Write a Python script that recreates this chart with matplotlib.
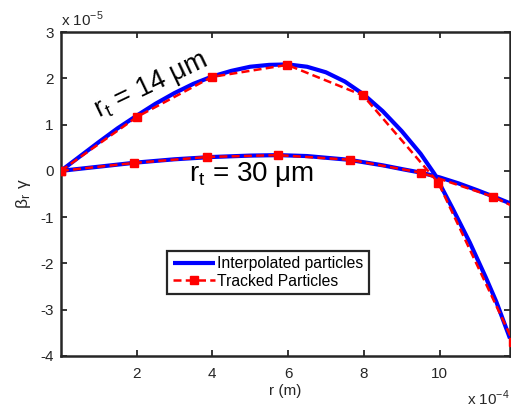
import numpy as np
import matplotlib.pyplot as plt

plt.rcParams['font.family'] = ['Liberation Sans', 'DejaVu Sans']
plt.rcParams['axes.unicode_minus'] = False

# r en unidades de 1e-4 m, beta_r*gamma en unidades de 1e-5
r_interp_14 = [0, 0.5, 1, 1.5, 2, 2.5, 3, 3.5, 4, 4.5, 5, 5.5, 6, 6.5, 7, 7.5,
               8, 8.5, 9, 9.5, 9.87, 10.35, 10.8, 11.22, 11.5, 11.86]
bg_interp_14 = [0, 0.31, 0.62, 0.92, 1.19, 1.45, 1.68, 1.88, 2.04, 2.16, 2.25, 2.29,
                2.3, 2.25, 2.13, 1.93, 1.65, 1.29, 0.86, 0.37, -0.07, -0.82, -1.55,
                -2.3, -2.83, -3.62]

r_track_14 = [0, 2.02, 3.99, 5.98, 7.98, 9.97, 11.95]
bg_track_14 = [0, 1.17, 2.03, 2.29, 1.63, -0.26, -3.70]

r_interp_30 = [0, 1, 2, 3, 4, 5, 5.75, 6.5, 7.6, 8.5, 9.06, 9.52, 10, 10.5, 11,
               11.44, 11.86]
bg_interp_30 = [0, 0.09, 0.18, 0.25, 0.3, 0.33, 0.34, 0.32, 0.24, 0.12, 0.03, -0.04,
                -0.14, -0.27, -0.42, -0.56, -0.70]

r_track_30 = [0, 1.92, 3.86, 5.74, 7.63, 9.52, 11.42, 13.36]
bg_track_30 = [0, 0.17, 0.30, 0.34, 0.24, -0.04, -0.56, -1.33]

x_ticks = [2, 4, 6, 8, 10]
y_ticks = [-4, -3, -2, -1, 0, 1, 2, 3]

fig = plt.figure(figsize=(5.11, 4.08), dpi=100)
ax = fig.add_axes([0.119, 0.1275, 0.879, 0.794])

azul = dict(color='#0000ff', lw=3.0, solid_capstyle='butt')
rojo = dict(color='#ff0000', lw=1.8, ls=(0, (3.2, 1.7)), marker='s', ms=5.8,
            mfc='#ff0000', mec='#ff0000', mew=1)

ax.plot(r_interp_14, bg_interp_14, label='Interpolated particles', zorder=3, **azul)
ax.plot(r_track_14, bg_track_14, label='Tracked Particles', zorder=4, **rojo)
ax.plot(r_interp_30, bg_interp_30, zorder=3, **azul)
ax.plot(r_track_30, bg_track_30, zorder=4, **rojo)

ax.set_xlim(0, 11.86)
ax.set_ylim(-4, 3)
ax.set_xticks(x_ticks)
ax.set_yticks(y_ticks)
ax.tick_params(direction='in', top=True, right=True, length=4, width=1.3,
               labelsize=11, colors='#262626', pad=5)
ax.tick_params(axis='x', pad=8)
for s in ax.spines.values():
    s.set_linewidth(1.8)
    s.set_color('#262626')

ax.set_xlabel('r (m)', fontsize=11, color='#262626', labelpad=2)
ax.set_ylabel(r'$\mathregular{\beta_r\ \gamma}$', fontsize=12.5, color='#262626', labelpad=5)

ax.text(0.0, 1.008, r'x 10$^{\mathregular{-5}}$', transform=ax.transAxes,
        fontsize=11, color='#262626', ha='left', va='bottom')
ax.text(1.0, -0.1, r'x 10$^{\mathregular{-4}}$', transform=ax.transAxes,
        fontsize=11, color='#262626', ha='right', va='top')

ax.text(2.37, 1.84, r'r$_\mathregular{t}$ = 14 μm', fontsize=19.5, rotation=25.5,
        ha='center', va='center', color='black')
ax.text(5.05, -0.07, r'r$_\mathregular{t}$ = 30 μm', fontsize=20,
        ha='center', va='center', color='black')

leg = ax.legend(loc='upper left', bbox_to_anchor=(0.237, 0.325), fontsize=11.3,
                frameon=True, fancybox=False, handlelength=2.7, handletextpad=0.15,
                borderpad=0.35, labelspacing=0.15, borderaxespad=0)
leg.get_frame().set_edgecolor('#262626')
leg.get_frame().set_linewidth(1.6)
leg.get_frame().set_alpha(1)

fig.savefig('out.png', dpi=100)
